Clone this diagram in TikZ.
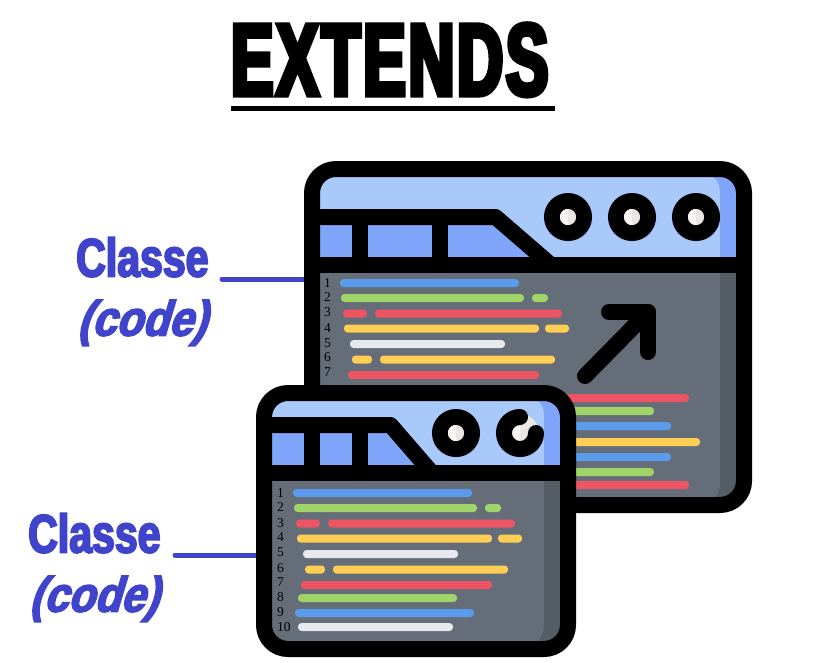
\documentclass[tikz,border=0pt]{standalone}
\usepackage{fontspec}
\setmainfont{Liberation Serif}
\newfontfamily\titlefont[FakeBold=5,FakeStretch=0.62,LetterSpace=3]{Liberation Sans Bold}
\newfontfamily\labelfont[FakeBold=3.5,FakeStretch=0.76]{Liberation Sans Bold}
\newfontfamily\codefont[FakeBold=3.5,FakeStretch=0.88,FakeSlant=0.3]{Liberation Sans Bold}
\definecolor{hlight}{HTML}{A9C9FB}
\definecolor{hdark}{HTML}{7FA5FB}
\definecolor{cgrey}{HTML}{656D78}
\definecolor{cdark}{HTML}{545C66}
\definecolor{bblue}{HTML}{5A9BEB}
\definecolor{bgreen}{HTML}{A0D468}
\definecolor{bred}{HTML}{ED5565}
\definecolor{byellow}{HTML}{FFCE54}
\definecolor{bwhite}{HTML}{E6E9ED}
\definecolor{offa}{HTML}{F9F6F3}
\definecolor{offb}{HTML}{EBE6E2}
\definecolor{lblue}{HTML}{4044CB}
\newcommand\codebar[4]{\fill[#1,rounded corners=3.5pt] (#2,#4-4) rectangle (#3,#4+4);}
\newcommand\eyedot[2]{%
  \fill[offb] (#1,#2) circle (8);
  \begin{scope}\clip (#1-9,#2-9) rectangle (#1,#2+9);\fill[offa] (#1,#2) circle (8);\end{scope}}
\tikzset{
  x=1pt,y=-1pt,
  frame/.style={draw=black,line width=16pt,line join=round},
  ring/.style={draw=black,line width=16pt},
  linenum/.style={anchor=base west,font=\fontsize{13.5}{14}\selectfont,text=black,inner sep=0pt},
  title/.style={anchor=base west,inner sep=0pt,font=\titlefont\fontsize{102}{110}\selectfont},
  classe/.style={anchor=base west,inner sep=0pt,text=lblue,font=\labelfont\fontsize{54}{60}\selectfont},
  codelabel/.style={anchor=base west,inner sep=0pt,text=lblue,font=\codefont\fontsize{49}{60}\selectfont},
  connector/.style={draw=lblue,line width=5pt,line cap=round},
}
\begin{document}
\begin{tikzpicture}
\useasboundingbox (0,0) rectangle (818,662);
\fill[white] (0,0) rectangle (818,662);

% title
\node[title] (ttl) at (231,95) {EXTENDS};
\coordinate (ula) at (231,108.5);
\coordinate (ulb) at (555,108.5);
\draw[line width=5pt] (ula) -- (ulb);

% labels
\node[classe] (cla) at (76,276.5) {Classe};
\node[codelabel] (cda) at (77,335.5) {(code)};
\node[classe] (clb) at (28,552.5) {Classe};
\node[codelabel] (cdb) at (29,611.5) {(code)};
\coordinate (la) at (222,279);
\coordinate (wa) at (312,279);
\coordinate (lb) at (175,555);
\coordinate (wb) at (264,555);
\draw[connector] (la) -- (wa);
\draw[connector] (lb) -- (wb);

% big window
\begin{scope}
\clip[rounded corners=24pt] (312,169) rectangle (744,505);
\fill[hlight] (312,169) rectangle (744,265);
\fill[cgrey] (312,265) rectangle (744,505);
\fill[hdark] (713,177) .. controls (718,180) and (720,186) .. (720,193) -- (720,265) -- (744,265) -- (744,169) -- (713,169) -- cycle;
\fill[cdark] (720,265) -- (720,485) .. controls (720,490) and (718,495) .. (715,497) -- (715,505) -- (744,505) -- (744,265) -- cycle;
\fill[hdark] (312,217) -- (495.5,217) -- (551,265) -- (312,265) -- cycle;
\end{scope}
\draw[frame] (312,217) -- (495.5,217) -- (551,265);
\draw[frame] (360,217) -- (360,265);
\draw[frame] (440,217) -- (440,265);
\draw[frame] (312,265) -- (744,265);
\draw[ring] (568,217) circle (16);
\draw[ring] (632,217) circle (16);
\draw[ring] (696,217) circle (16);
\eyedot{568}{217}\eyedot{632}{217}\eyedot{696}{217}
\draw[frame,rounded corners=24pt] (312,169) rectangle (744,505);

\codebar{bblue}{340}{519}{283}
\codebar{bgreen}{341}{524}{298}
\codebar{bgreen}{532}{548}{298}
\codebar{bred}{343}{367}{313.5}
\codebar{bred}{375}{562}{313.5}
\codebar{byellow}{344}{539}{328.5}
\codebar{byellow}{545}{569}{328.5}
\codebar{bwhite}{350}{505}{344}
\codebar{byellow}{352}{372}{359.5}
\codebar{byellow}{380}{555}{359.5}
\codebar{bred}{348}{539}{375}
\codebar{bred}{500}{689}{398}
\codebar{bgreen}{500}{654}{411}
\codebar{bblue}{500}{671}{426}
\codebar{byellow}{500}{700}{442}
\codebar{bblue}{500}{671}{457}
\codebar{bgreen}{500}{654}{472}
\codebar{bred}{500}{689}{485}

\node[linenum] (a1) at (324,287) {1};
\node[linenum] (a2) at (324,301.6) {2};
\node[linenum] (a3) at (324,316.6) {3};
\node[linenum] (a4) at (324,332) {4};
\node[linenum] (a5) at (324,347) {5};
\node[linenum] (a6) at (324,361.6) {6};
\node[linenum] (a7) at (324,376.6) {7};

% arrow
\draw[line width=16pt,line cap=round,line join=round] (585,376) -- (648,312);
\draw[line width=16pt,line cap=round,line join=round] (609,312) -- (648,312) -- (648,352);

% small window
\begin{scope}
\clip[rounded corners=24pt] (264,393) rectangle (568,649);
\fill[hlight] (264,393) rectangle (568,473);
\fill[cgrey] (264,473) rectangle (568,649);
\fill[hdark] (538,401) .. controls (542,404) and (544,409) .. (544,415) -- (544,473) -- (568,473) -- (568,393) -- (538,393) -- cycle;
\fill[cdark] (544,473) -- (544,625) .. controls (544,631) and (542,637) .. (538,641) -- (538,649) -- (568,649) -- (568,473) -- cycle;
\fill[hdark] (264,425) -- (390.5,425) -- (432,473) -- (264,473) -- cycle;
\end{scope}
\draw[frame] (264,425) -- (390.5,425) -- (432,473);
\draw[frame] (312,425) -- (312,473);
\draw[frame] (360,425) -- (360,473);
\draw[frame] (264,473) -- (568,473);
\draw[ring] (456,433) circle (16);
\eyedot{456}{433}
\fill[offb] (520,433) circle (19);
\eyedot{520}{433}
\draw[ring,line cap=round] (520,417) .. controls (511.16,417) and (504,424.16) .. (504,433)
  .. controls (504,441.84) and (511.16,449) .. (520,449)
  .. controls (528.84,449) and (536,441.84) .. (536,433);
\draw[frame,rounded corners=24pt] (264,393) rectangle (568,649);

\codebar{bblue}{293}{472}{493}
\codebar{bgreen}{294}{477}{508}
\codebar{bgreen}{485}{501}{508}
\codebar{bred}{296}{320}{523.5}
\codebar{bred}{328}{515}{523.5}
\codebar{byellow}{297}{492}{538.5}
\codebar{byellow}{498}{522}{538.5}
\codebar{bwhite}{303}{458}{554}
\codebar{byellow}{305}{325}{569.5}
\codebar{byellow}{333}{508}{569.5}
\codebar{bred}{301}{492}{585}
\codebar{bgreen}{298}{457}{598}
\codebar{bblue}{295}{474}{613}
\codebar{bwhite}{298}{453}{627}

\node[linenum] (b1) at (277,497) {1};
\node[linenum] (b2) at (277,511.6) {2};
\node[linenum] (b3) at (277,527) {3};
\node[linenum] (b4) at (277,541.6) {4};
\node[linenum] (b5) at (277,556.6) {5};
\node[linenum] (b6) at (277,572) {6};
\node[linenum] (b7) at (277,586.6) {7};
\node[linenum] (b8) at (277,601.6) {8};
\node[linenum] (b9) at (277,616.6) {9};
\node[linenum] (b10) at (277,631.6) {10};
\end{tikzpicture}
\end{document}
